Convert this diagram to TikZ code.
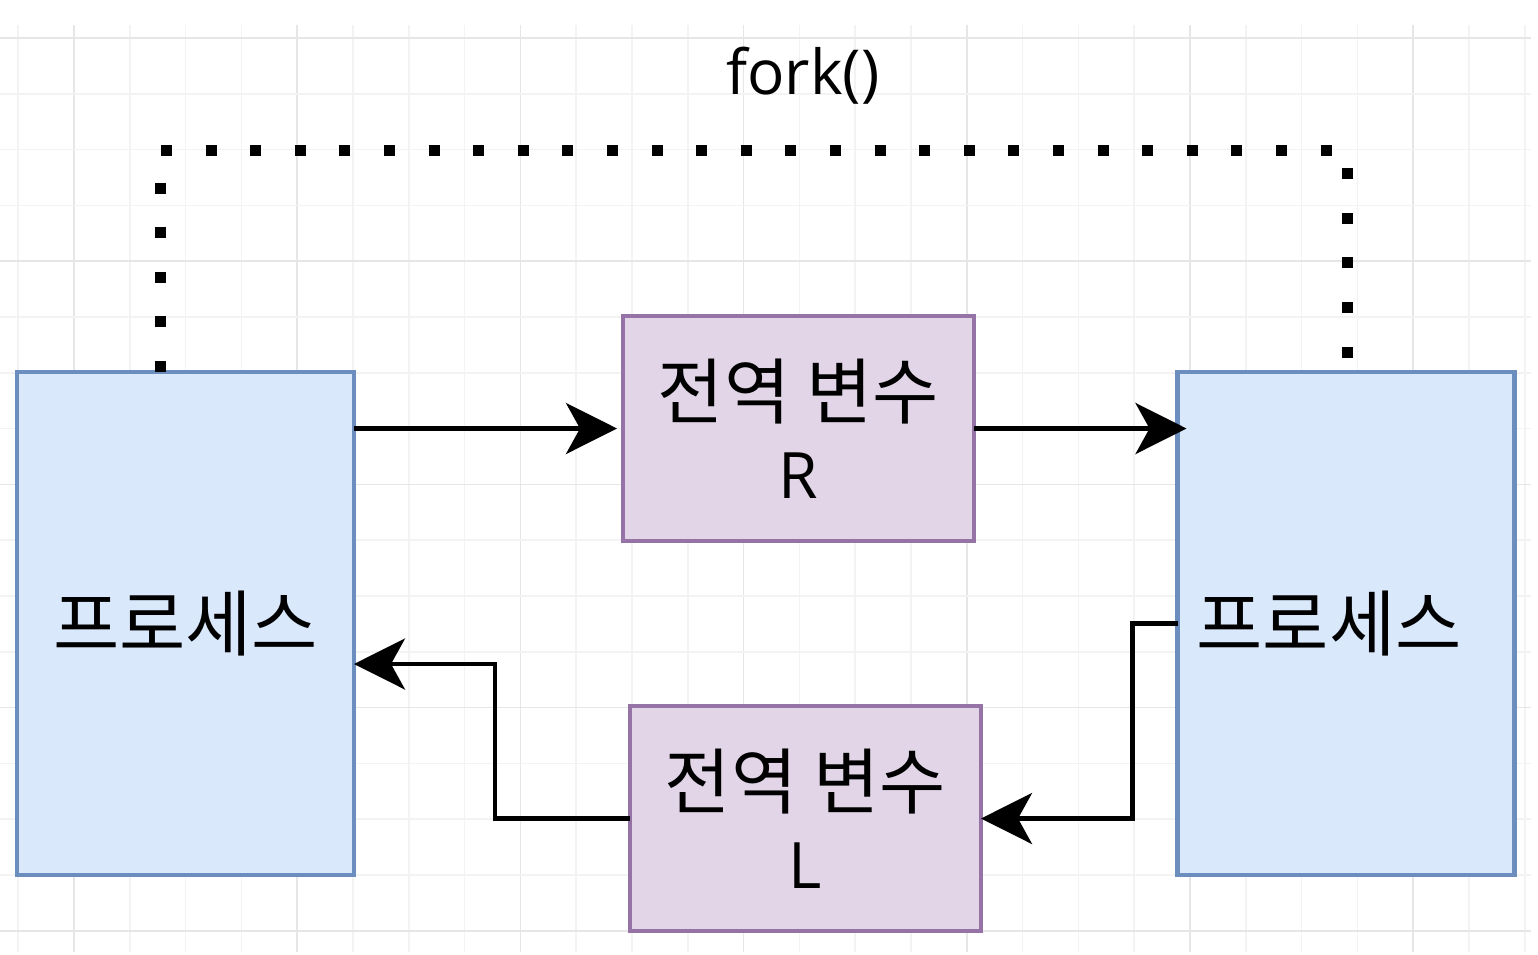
\documentclass[tikz,border=0pt]{standalone}
\usepackage{fontspec}
\setmainfont{Open Sans}
\newfontfamily\krfont{Noto Sans CJK KR}
\usetikzlibrary{arrows.meta}
\definecolor{procfill}{HTML}{DAE8FC}
\definecolor{procdraw}{HTML}{6C8EBF}
\definecolor{varfill}{HTML}{E1D5E7}
\definecolor{vardraw}{HTML}{9673A6}
\definecolor{gridminor}{HTML}{F3F3F3}
\definecolor{gridmajor}{HTML}{E6E6E6}
\tikzset{
  proc/.style={draw=procdraw, fill=procfill, line width=4.5pt, inner sep=0pt, outer sep=0pt,
    minimum width=337pt, minimum height=503pt,
    font=\krfont\fontsize{72}{80}\selectfont},
  var/.style={draw=vardraw, fill=varfill, line width=4.5pt, inner sep=0pt, outer sep=0pt,
    minimum width=351pt, minimum height=225pt, align=center,
    font=\fontsize{64}{80}\selectfont},
  flow/.style={line width=4.5pt, -{Stealth[length=51pt, width=51pt, inset=14pt]}},
  forkline/.style={line width=11pt, dash pattern=on 11pt off 33.6pt}
}
\begin{document}
\begin{tikzpicture}[x=1pt, y=-1pt]
        \useasboundingbox (0,0) rectangle (1538,954);
        \fill[white] (0,0) rectangle (1538,954);

        % Draw the grid
        \foreach \k in {0,...,27} {
          \pgfmathsetmacro{\gx}{18.2+55.8*\k}
          \pgfmathtruncatemacro{\m}{mod(\k+3,4)}
          \ifnum\m=0 \def\gc{gridmajor}\else \def\gc{gridminor}\fi
          \draw[\gc, line width=1.5pt] (\gx,25) -- (\gx,952);
        }
        \foreach \k in {0,...,16} {
          \pgfmathsetmacro{\gy}{38+55.8*\k}
          \pgfmathtruncatemacro{\m}{mod(\k,4)}
          \ifnum\m=0 \def\gc{gridmajor}\else \def\gc{gridminor}\fi
          \draw[\gc, line width=1.5pt] (0,\gy) -- (1531,\gy);
        }

        % Draw the processes
        \node[proc] (lproc) at (185.5,623.5) {프로세스};
        \node[proc] (rproc) at (1346,623.5) {\hspace*{-34pt}프로세스};

        % Draw the global variables
        \node[var] (rvar) at (798.5,428.5) {{\krfont\fontsize{72}{80}\selectfont 전역 변수}\\R};
        \node[var] (lvar) at (805.5,818.5) {{\krfont\fontsize{72}{80}\selectfont 전역 변수}\\L};

        % Add the fork label
        \node[font=\fontsize{62}{70}\selectfont] (fork) at (803,76) {fork()};

        % Draw the fork line
        \draw[forkline] ([xshift=-25.5pt]lproc.north) -- ++(0,-222) -| ([xshift=1pt]rproc.north);

        % Draw the arrows
        \draw[flow] (lproc.east |- rvar.west) -- ([xshift=-6pt]rvar.west);
        \draw[flow] (rvar.east) -- ([xshift=9pt]rproc.west |- rvar.east);
        \draw[flow] (rproc.west) -- ++(-45,0) |- (lvar.east);
        \draw[flow] (lvar.west) -- ++(-135,0) |- ([yshift=-40.5pt]lproc.east);
      \end{tikzpicture}
\end{document}
